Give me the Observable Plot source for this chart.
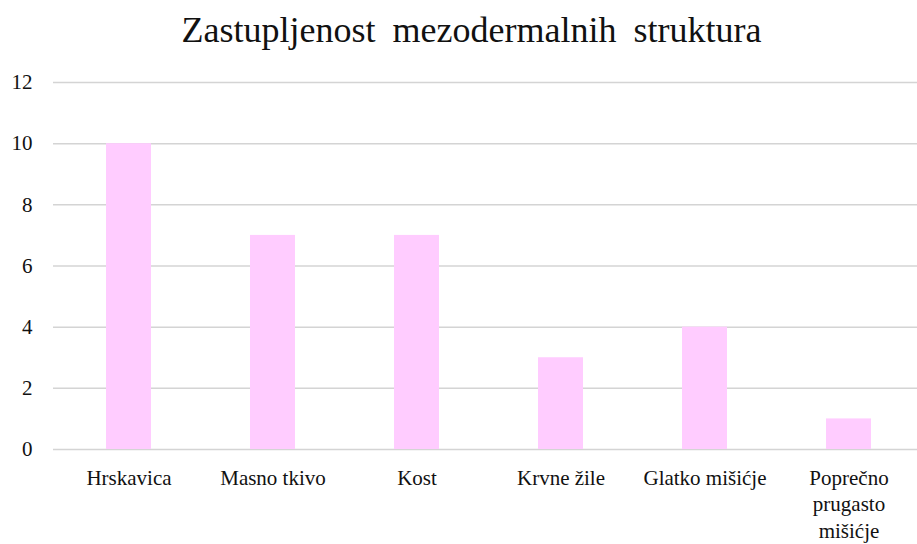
<!DOCTYPE html>
<html>
<head>
<meta charset="utf-8">
<script src="https://cdn.jsdelivr.net/npm/d3@7"></script>
<script src="https://cdn.jsdelivr.net/npm/@observablehq/plot@0.6"></script>
<style>
  html, body { margin: 0; padding: 0; background: #fff; }
  #wrap { position: relative; width: 917px; height: 544px; overflow: hidden; font-family: "Liberation Serif", "Times New Roman", serif; }
  #title { position: absolute; left: 0; top: 0; width: 917px; height: 62px; text-align: center; font-size: 36px; color: #111; word-spacing: 8px; line-height: 60px; padding-left: 26px; box-sizing: border-box; }
  #chart { position: absolute; left: 0; top: 62px; }
</style>
</head>
<body>
<div id="wrap">
  <div id="title">Zastupljenost mezodermalnih struktura</div>
  <div id="chart"></div>
</div>
<script>
const categories = ["Hrskavica", "Masno tkivo", "Kost", "Krvne žile", "Glatko mišićje", "Poprečno prugasto mišićje"];
const values = [10, 7, 7, 3, 4, 1];
const tickLabels = ["Hrskavica", "Masno tkivo", "Kost", "Krvne žile", "Glatko mišićje", "Poprečno\nprugasto\nmišićje"];
const yTicks = [0, 2, 4, 6, 8, 10, 12];

const data = categories.map((c, i) => ({category: c, value: values[i]}));
const labelOf = new Map(categories.map((c, i) => [c, tickLabels[i]]));

const FONT = "'Liberation Serif', 'Times New Roman', serif";

const chart = Plot.plot({
  width: 917,
  height: 482,
  marginLeft: 53,
  marginRight: 0,
  marginTop: 20,
  marginBottom: 95,
  style: {fontFamily: FONT, fontSize: "21px", color: "#111", background: "#fff"},
  x: {domain: categories, range: [53.4, 922.8], paddingInner: 0.69, paddingOuter: 0.345, align: 0.5},
  y: {domain: [0, 12], range: [387, 20]},
  marks: [
    Plot.gridY(yTicks, {stroke: "#d4d4d4", strokeOpacity: 1, strokeWidth: 1.5}),
    Plot.barY(data, {x: "category", y: "value", fill: "#ffccff"}),
    Plot.axisY(yTicks, {tickSize: 0, tickPadding: 21, fontSize: 21, label: null}),
    Plot.axisX({tickSize: 0, tickPadding: 17, fontSize: 21, label: null, lineHeight: 1.25, tickFormat: d => labelOf.get(d)})
  ]
});
chart.style.setProperty("font-family", FONT, "important");
chart.querySelectorAll("g, text, tspan").forEach(el => {
  el.setAttribute("font-family", FONT);
  el.style.setProperty("font-family", FONT, "important");
});
document.getElementById("chart").appendChild(chart);
</script>
</body>
</html>
